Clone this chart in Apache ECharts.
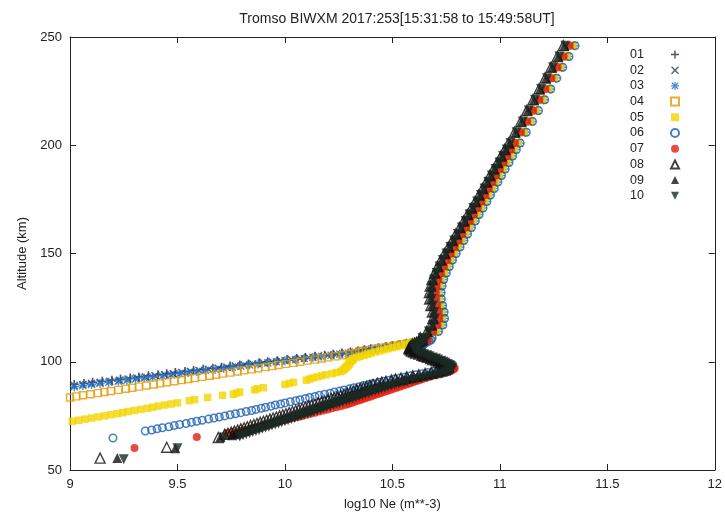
<!DOCTYPE html>
<html><head><meta charset="utf-8">
<script src="https://cdn.jsdelivr.net/npm/echarts@6/dist/echarts.min.js"></script>
<style>html,body{margin:0;padding:0;background:#fff}#c{width:725px;height:523px}</style>
</head><body><div id="c"></div>
<script>
const titleText = 'Tromso BIWXM 2017:253[15:31:58 to 15:49:58UT]';
const xAxisName = 'log10 Ne (m**-3)';
const yAxisName = 'Altitude (km)';
const seriesNames = ['01','02','03','04','05','06','07','08','09','10'];

const upperAlt = [246,241,236,231,226,221,216,211,206,201,198,195,192,189,186,183,180,177,174,171,168,165,162,159,156,153,150,147,144,141,138,135,132,129,126,123,120,117,114,111];
const lowerAlt = [110,109.5,109,108.5,108,107.5,107,106.5,106,105.5,105,104.5,104,103.5,103,102.5,102,101.5,101,100.5,100,99.5,99,98.5,98,97.5,97,96.5,96,95.5,95,94.5,94,93.5,93,92.5,92,91.5,91,90.5,90,89.5,89,88.5,88,87.5,87,86.5,86,85.5,85,84.5,84,83.5,83,82.5,82,81.5,81,80.5,80,79.5,79,78.5,78,77.5,77,76.5,76,75.5,75,74.5,74,73.5,73,72.5,72,71.5,71,70.5,70,69.5,69,68.5,68,67.5,67,66.5,66,65.5,65];

const upper01 = [11.315,11.287,11.258,11.23,11.202,11.174,11.145,11.117,11.088,11.06,11.042,11.025,11.008,10.99,10.973,10.956,10.939,10.922,10.905,10.887,10.869,10.851,10.833,10.815,10.798,10.78,10.762,10.745,10.73,10.716,10.704,10.696,10.692,10.693,10.699,10.706,10.708,10.70,10.68,10.65];
const upper02 = [11.33,11.302,11.273,11.245,11.217,11.189,11.16,11.132,11.103,11.075,11.057,11.04,11.023,11.005,10.988,10.971,10.954,10.937,10.92,10.902,10.884,10.866,10.848,10.83,10.813,10.795,10.777,10.76,10.745,10.731,10.719,10.711,10.707,10.708,10.714,10.721,10.723,10.715,10.695,10.665];
const upper03 = [11.345,11.317,11.288,11.26,11.232,11.204,11.175,11.147,11.118,11.09,11.072,11.055,11.038,11.02,11.003,10.986,10.969,10.952,10.935,10.917,10.899,10.881,10.863,10.845,10.828,10.81,10.792,10.775,10.76,10.746,10.734,10.726,10.722,10.723,10.729,10.736,10.738,10.73,10.71,10.68];
const upper04 = [11.335,11.307,11.278,11.25,11.222,11.194,11.165,11.137,11.108,11.08,11.062,11.045,11.028,11.01,10.993,10.976,10.959,10.942,10.925,10.907,10.889,10.871,10.853,10.835,10.818,10.80,10.782,10.765,10.75,10.736,10.724,10.716,10.712,10.713,10.719,10.726,10.728,10.72,10.70,10.67];
const upper05 = [11.34,11.312,11.283,11.255,11.227,11.199,11.17,11.142,11.113,11.085,11.067,11.05,11.033,11.015,10.998,10.981,10.964,10.947,10.93,10.912,10.894,10.876,10.858,10.84,10.823,10.805,10.787,10.77,10.755,10.741,10.729,10.721,10.717,10.718,10.724,10.731,10.733,10.725,10.705,10.675];
const upper06 = [11.35,11.322,11.293,11.265,11.237,11.209,11.18,11.152,11.123,11.095,11.077,11.06,11.043,11.025,11.008,10.991,10.974,10.957,10.94,10.922,10.904,10.886,10.868,10.85,10.833,10.815,10.797,10.78,10.765,10.751,10.739,10.731,10.727,10.728,10.734,10.741,10.743,10.735,10.715,10.685];
const upper07 = [11.325,11.297,11.268,11.24,11.212,11.184,11.155,11.127,11.098,11.07,11.052,11.035,11.018,11.0,10.983,10.966,10.949,10.932,10.915,10.897,10.879,10.861,10.843,10.825,10.808,10.79,10.772,10.755,10.74,10.726,10.714,10.706,10.702,10.703,10.709,10.716,10.718,10.71,10.69,10.66];
const upper08 = [11.295,11.267,11.238,11.21,11.182,11.154,11.125,11.097,11.068,11.04,11.022,11.005,10.988,10.97,10.953,10.936,10.919,10.902,10.885,10.867,10.849,10.831,10.813,10.795,10.778,10.76,10.742,10.725,10.71,10.696,10.684,10.676,10.672,10.673,10.679,10.686,10.688,10.68,10.66,10.63];
const upper09 = [11.30,11.272,11.243,11.215,11.187,11.159,11.13,11.102,11.073,11.045,11.027,11.01,10.993,10.975,10.958,10.941,10.924,10.907,10.89,10.872,10.854,10.836,10.818,10.80,10.783,10.765,10.747,10.73,10.715,10.701,10.689,10.681,10.677,10.678,10.684,10.691,10.693,10.685,10.665,10.635];
const upper10 = [11.305,11.277,11.248,11.22,11.192,11.164,11.135,11.107,11.078,11.05,11.032,11.015,10.998,10.98,10.963,10.946,10.929,10.912,10.895,10.877,10.859,10.841,10.823,10.805,10.788,10.77,10.752,10.735,10.72,10.706,10.694,10.686,10.682,10.683,10.689,10.696,10.698,10.69,10.67,10.64];

const lower01 = [10.635,10.62,10.595,10.565,10.535,10.50,10.47,10.435,10.40,10.37,10.34,10.305,10.265,10.225,10.185,10.14,10.095,10.055,10.01,9.965,9.92,9.88,9.83,9.79,9.745,9.705,9.665,9.62,9.575,9.535,9.49,9.45,9.41,9.365,9.32,9.28,9.235,9.195,9.15,9.105,9.065,9.02];
const lower02 = [10.64,10.63,10.60,10.57,10.54,10.51,10.48,10.445,10.41,10.38,10.35,10.32,10.28,10.24,10.20,10.155,10.11,10.07,10.03,9.98,9.94,9.90,9.85,9.81,9.77,9.73,9.69,9.645,9.60,9.56,9.52,9.48,9.44,9.395,9.35,9.31,9.27,9.23,9.185,9.14,9.10,9.06,9.02];
const lower03 = [10.645,10.635,10.61,10.58,10.55,10.52,10.49,10.455,10.42,10.39,10.36,10.33,10.295,10.255,10.215,10.17,10.13,10.09,10.05,10.00,9.96,9.92,9.875,9.835,9.795,9.755,9.715,9.675,9.63,9.59,9.55,9.51,9.47,9.43,9.385,9.345,9.305,9.265,9.225,9.18,9.14,9.10,9.06,9.02];
const lower04 = [10.65,10.62,10.60,10.57,10.54,10.51,10.48,10.45,10.42,10.39,10.36,10.345,10.325,10.30,10.27,10.235,10.20,10.17,10.14,10.105,10.07,10.04,10.005,9.97,9.94,9.91,9.875,9.845,9.81,9.78,9.745,9.71,9.68,9.65,9.615,9.58,9.55,9.52,9.485,9.45,9.42,9.39,9.355,9.32,9.29,9.26,9.225,9.19,9.16,9.13,9.095,9.06,9.03,9.00];
const lower05 = [10.64,10.62,10.60,10.58,10.56,10.54,10.52,10.50,10.48,10.46,10.44,10.42,10.40,10.385,10.37,10.35,10.335,10.32,10.315,10.31,10.305,10.30,10.30,10.295,10.29,10.285,10.28,10.275,10.27,10.26,10.24,10.22,10.19,10.17,10.15,10.13,10.115,10.10,null,10.04,10.02,10.00,null,null,9.90,9.87,9.86,null,9.79,9.775,9.76,9.71,null,9.64,null,9.58,9.555,null,9.50,9.47,9.44,9.41,9.385,9.36,9.33,9.30,9.27,9.245,9.22,9.19,9.16,9.13,9.10,9.07,9.04,9.01];
const lower06 = [10.68,10.67,10.66,10.65,10.645,10.64,10.635,10.63,10.63,10.63,10.635,10.64,10.645,10.655,10.665,10.675,10.685,10.70,10.71,10.72,10.73,10.74,10.75,10.755,10.76,10.76,10.75,10.735,10.715,10.69,10.665,10.64,10.61,10.585,10.56,10.535,10.51,10.485,10.46,10.435,10.41,10.39,10.365,10.345,10.32,10.30,10.275,10.255,10.23,10.21,10.185,10.16,10.14,10.115,10.095,10.07,10.05,10.025,10.00,9.98,9.955,9.935,9.91,9.89,9.865,9.845,9.82,9.795,9.77,9.745,9.72,9.695,9.67,9.645,9.615,9.59,9.565,9.54,9.51,9.485,9.46,9.43,9.405,9.38,9.35];
const lower07 = [10.665,10.655,10.645,10.635,10.63,10.625,10.62,10.615,10.615,10.615,10.62,10.625,10.635,10.645,10.66,10.67,10.685,10.70,10.71,10.725,10.74,10.75,10.76,10.77,10.78,10.785,10.79,10.785,10.775,10.765,10.75,10.73,10.71,10.69,10.67,10.655,10.64,10.625,10.61,10.595,10.58,10.565,10.55,10.535,10.52,10.505,10.49,10.475,10.46,10.445,10.43,10.415,10.40,10.385,10.37,10.355,10.34,10.325,10.31,10.295,10.28,10.26,10.24,10.22,10.20,10.18,10.16,10.14,10.12,10.10,10.08,10.06,10.04,10.02,10.00,9.98,9.96,9.94,9.92,9.90,9.88,9.86,9.84,9.81,9.79,9.76,9.73];
const lower08 = [10.633,10.623,10.613,10.603,10.593,10.588,10.583,10.578,10.578,10.583,10.588,10.598,10.608,10.623,10.638,10.648,10.663,10.678,10.688,10.703,10.713,10.723,10.733,10.743,10.748,10.75,10.747,10.738,10.724,10.705,10.681,10.652,10.623,10.595,10.567,10.54,10.515,10.495,10.47,10.45,10.43,10.41,10.395,10.38,10.365,10.35,10.335,10.32,10.305,10.29,10.275,10.26,10.245,10.23,10.215,10.20,10.185,10.17,10.155,10.14,10.125,10.11,10.095,10.08,10.065,10.05,10.035,10.02,10.005,9.99,9.975,9.96,9.945,9.93,9.915,9.90,9.885,9.87,9.855,9.84,9.825,9.81,9.795,9.78,9.765,9.75,9.735,9.72];
const lower09 = [10.645,10.635,10.625,10.615,10.605,10.60,10.595,10.59,10.59,10.595,10.60,10.61,10.62,10.635,10.65,10.66,10.675,10.69,10.70,10.715,10.725,10.735,10.745,10.755,10.76,10.765,10.765,10.76,10.75,10.735,10.715,10.69,10.665,10.64,10.615,10.59,10.565,10.545,10.52,10.50,10.48,10.46,10.445,10.43,10.415,10.40,10.385,10.37,10.355,10.34,10.325,10.31,10.295,10.28,10.265,10.25,10.235,10.22,10.205,10.19,10.175,10.16,10.145,10.13,10.115,10.10,10.085,10.07,10.055,10.04,10.025,10.01,9.995,9.98,9.965,9.95,9.935,9.92,9.905,9.89,9.875,9.86,9.845,9.83,9.815,9.80,9.785,9.77,9.755];
const lower10 = [10.657,10.647,10.637,10.627,10.617,10.612,10.607,10.602,10.602,10.607,10.612,10.622,10.632,10.647,10.662,10.672,10.687,10.702,10.712,10.727,10.737,10.747,10.757,10.767,10.772,10.777,10.779,10.777,10.771,10.76,10.745,10.725,10.705,10.684,10.662,10.64,10.615,10.595,10.57,10.55,10.53,10.51,10.495,10.48,10.465,10.45,10.435,10.42,10.405,10.39,10.375,10.36,10.345,10.33,10.315,10.30,10.285,10.27,10.255,10.24,10.225,10.21,10.195,10.18,10.165,10.15,10.135,10.12,10.105,10.09,10.075,10.06,10.045,10.03,10.015,10.00,9.985,9.97,9.955,9.94,9.925,9.91,9.895,9.88,9.865,9.85,9.835,9.82,9.805,9.79];

// sparse low-altitude points [Ne, altitude]
const extra06 = [[9.20,64.8]];
const extra07 = [[9.59,65.2],[9.30,60.2]];
const extra08 = [[9.69,65.0],[9.45,60.5],[9.14,55.5]];
const extra09 = [[9.70,65.2],[9.49,60.0],[9.22,55.5]];
const extra10 = [[9.715,65.0],[9.50,60.0],[9.25,55.0]];

const uppers = [upper01,upper02,upper03,upper04,upper05,upper06,upper07,upper08,upper09,upper10];
const lowers = [lower01,lower02,lower03,lower04,lower05,lower06,lower07,lower08,lower09,lower10];
const extras = [[],[],[],[],[],extra06,extra07,extra08,extra09,extra10];

const PLUS = 'path://M0,4.1H10V5.9H0Z M4.1,0H5.9V10H4.1Z';
const CROSS = 'path://M0,1.3L1.3,0L5,3.7L8.7,0L10,1.3L6.3,5L10,8.7L8.7,10L5,6.3L1.3,10L0,8.7L3.7,5Z';
const STAR = 'path://M0,4.2H10V5.8H0Z M4.2,0H5.8V10H4.2Z M0.5,1.6L1.6,0.5L9.5,8.4L8.4,9.5Z M8.4,0.5L9.5,1.6L1.6,9.5L0.5,8.4Z';
const DOWNTRI = 'path://M0,0H10L5,10Z';
const styles = [
  {symbol: PLUS, size: 9, itemStyle: {color: '#33203d'}},
  {symbol: CROSS, size: 8, itemStyle: {color: '#2a3d4a'}},
  {symbol: STAR, size: 9, itemStyle: {color: '#1f74cc'}},
  {symbol: 'rect', size: 7, itemStyle: {color: 'transparent', borderColor: '#e69a00', borderWidth: 1.4}},
  {symbol: 'rect', size: 7.5, itemStyle: {color: '#f2d600'}},
  {symbol: 'circle', size: 7.5, itemStyle: {color: 'transparent', borderColor: '#1a5fb4', borderWidth: 1.5}},
  {symbol: 'circle', size: 8, itemStyle: {color: '#e51e10'}},
  {symbol: 'triangle', size: 10, itemStyle: {color: 'transparent', borderColor: '#111', borderWidth: 1.4}},
  {symbol: 'triangle', size: 10, itemStyle: {color: '#111'}},
  {symbol: DOWNTRI, size: 10, itemStyle: {color: '#1c2a24'}}
];

function buildData(k) {
  const d = [];
  uppers[k].forEach((v, i) => { if (v != null) d.push([v, upperAlt[i]]); });
  lowers[k].forEach((v, i) => { if (v != null) d.push([v, lowerAlt[i]]); });
  extras[k].forEach(p => d.push(p));
  return d;
}

const FONT = 'Liberation Sans, Arial, sans-serif';
const chart = echarts.init(document.getElementById('c'), null, {renderer: 'canvas'});
const axisCommon = {
  type: 'value', splitLine: {show: false},
  axisLine: {show: true, onZero: false, lineStyle: {color: '#222', width: 1}},
  axisTick: {show: true, inside: true, length: 6, lineStyle: {color: '#222'}}
};
chart.setOption({
  animation: false,
  backgroundColor: '#fff',
  title: {text: titleText, left: 392, top: 7, textAlign: 'center',
    textStyle: {fontFamily: FONT, fontSize: 14, fontWeight: 'normal', color: '#222'}},
  grid: {left: 70, right: 10, top: 37, bottom: 53},
  legend: {
    orient: 'vertical', right: 40, top: 43, align: 'right',
    itemWidth: 8, itemHeight: 8, itemGap: 2.7,
    textStyle: {fontFamily: FONT, fontSize: 12.5, color: '#222', lineHeight: 12, padding: [0, 22, 0, 0]},
    data: seriesNames
  },
  xAxis: [
    Object.assign({}, axisCommon, {min: 9, max: 12, interval: 0.5, position: 'bottom',
      axisLabel: {color: '#222', fontFamily: FONT, fontSize: 13, margin: 8},
      name: xAxisName, nameLocation: 'middle', nameGap: 28,
      nameTextStyle: {fontFamily: FONT, fontSize: 13, color: '#222'}}),
    Object.assign({}, axisCommon, {min: 9, max: 12, interval: 0.5, position: 'top', axisLabel: {show: false}})
  ],
  yAxis: [
    Object.assign({}, axisCommon, {min: 50, max: 250, interval: 50, position: 'left',
      axisLabel: {color: '#222', fontFamily: FONT, fontSize: 13, margin: 8},
      name: yAxisName, nameLocation: 'middle', nameGap: 40,
      nameTextStyle: {fontFamily: FONT, fontSize: 13, color: '#222'}}),
    Object.assign({}, axisCommon, {min: 50, max: 250, interval: 50, position: 'right', axisLabel: {show: false}})
  ],
  series: seriesNames.map((name, k) => ({
    name: name, type: 'scatter', xAxisIndex: 0, yAxisIndex: 0,
    symbol: styles[k].symbol, symbolSize: styles[k].size,
    itemStyle: styles[k].itemStyle,
    emphasis: {disabled: true},
    clip: true,
    data: buildData(k)
  }))
});
</script></body></html>
